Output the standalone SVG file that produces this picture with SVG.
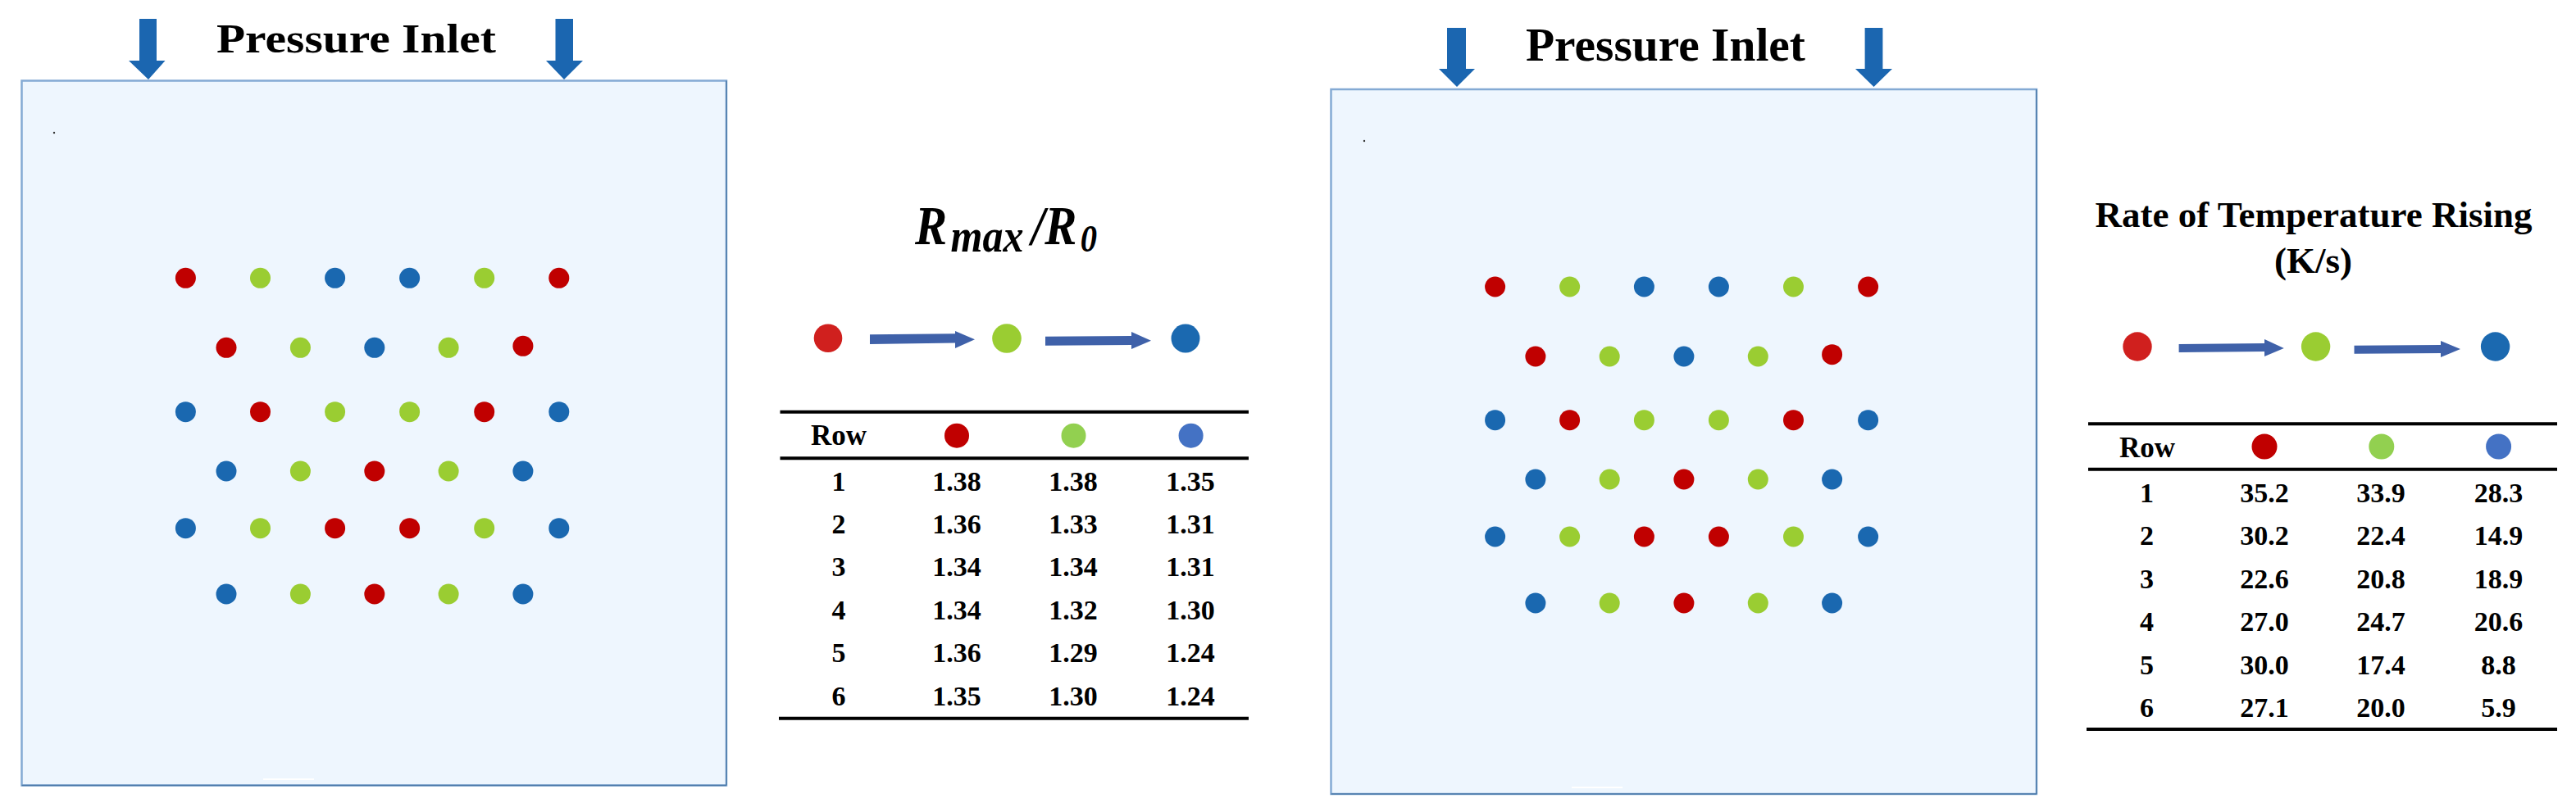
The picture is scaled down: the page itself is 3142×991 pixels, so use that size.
<svg xmlns="http://www.w3.org/2000/svg" width="3142" height="991" viewBox="0 0 3142 991">
<style>
.box{fill:#EEF6FE;stroke:#84AAD4;stroke-width:2.5}
.edge{stroke:#4A78A8;stroke-width:1.5;fill:none}
.inlet{fill:#1B66B0}
.ttl{font-family:"Liberation Serif","Times New Roman",serif;font-weight:bold;fill:#000}
.it{font-style:italic}
.tb{font-family:"Liberation Serif","Times New Roman",serif;font-weight:bold;font-size:34px;text-anchor:middle;fill:#000}
.hd{font-size:35px}
.rule{stroke:#000;stroke-width:4}
.r{fill:#C00000}.g{fill:#9ACD32}.b{fill:#1A68B0}
.lr{fill:#D0201E}.lg{fill:#9ACD32}.lb{fill:#1B69B0}
.hr{fill:#C00000}.hg{fill:#92D050}.hb{fill:#4472C4}
.conn{fill:#3F61A9}
</style>

<g id="left-domain">
  <rect class="box" x="26.5" y="98.5" width="859.5" height="860"/>
  <line class="edge" x1="886" y1="98.5" x2="886" y2="958.5"/>
  <line class="edge" x1="26.5" y1="958.5" x2="886" y2="958.5"/>
  <circle cx="66" cy="162" r="1.2" fill="#333"/>
  <line x1="321" y1="951" x2="383" y2="951" stroke="#FFFFFF" stroke-width="2"/>
</g>

<g id="left-inlet">
  <polygon class="inlet" points="170,23 191,23 191,74 201.5,74 181,97 157,74 170,74"/>
  <polygon class="inlet" points="677.5,23 699,23 699,74 711,74 688,97 666,74 677.5,74"/>
  <text class="ttl" x="264" y="64" font-size="50" textLength="341" lengthAdjust="spacingAndGlyphs">Pressure Inlet</text>
</g>

<g id="left-bubbles">
  <circle class="r" cx="226.4" cy="339.3" r="12.5"/>
  <circle class="g" cx="317.5" cy="339.3" r="12.5"/>
  <circle class="b" cx="408.6" cy="339.3" r="12.5"/>
  <circle class="b" cx="499.6" cy="339.3" r="12.5"/>
  <circle class="g" cx="590.7" cy="339.3" r="12.5"/>
  <circle class="r" cx="681.8" cy="339.3" r="12.5"/>

  <circle class="r" cx="276" cy="424.3" r="12.5"/>
  <circle class="g" cx="366.4" cy="424.3" r="12.5"/>
  <circle class="b" cx="456.8" cy="424.3" r="12.5"/>
  <circle class="g" cx="547.1" cy="424.3" r="12.5"/>
  <circle class="r" cx="637.9" cy="422.3" r="12.5"/>

  <circle class="b" cx="226.4" cy="502.7" r="12.5"/>
  <circle class="r" cx="317.5" cy="502.7" r="12.5"/>
  <circle class="g" cx="408.6" cy="502.7" r="12.5"/>
  <circle class="g" cx="499.6" cy="502.7" r="12.5"/>
  <circle class="r" cx="590.7" cy="502.7" r="12.5"/>
  <circle class="b" cx="681.8" cy="502.7" r="12.5"/>

  <circle class="b" cx="276" cy="575" r="12.5"/>
  <circle class="g" cx="366.4" cy="575" r="12.5"/>
  <circle class="r" cx="456.8" cy="575" r="12.5"/>
  <circle class="g" cx="547.1" cy="575" r="12.5"/>
  <circle class="b" cx="637.9" cy="575" r="12.5"/>

  <circle class="b" cx="226.4" cy="644.7" r="12.5"/>
  <circle class="g" cx="317.5" cy="644.7" r="12.5"/>
  <circle class="r" cx="408.6" cy="644.7" r="12.5"/>
  <circle class="r" cx="499.6" cy="644.7" r="12.5"/>
  <circle class="g" cx="590.7" cy="644.7" r="12.5"/>
  <circle class="b" cx="681.8" cy="644.7" r="12.5"/>

  <circle class="b" cx="276" cy="725" r="12.5"/>
  <circle class="g" cx="366.4" cy="725" r="12.5"/>
  <circle class="r" cx="456.8" cy="725" r="12.5"/>
  <circle class="g" cx="547.1" cy="725" r="12.5"/>
  <circle class="b" cx="637.9" cy="725" r="12.5"/>
</g>

<g id="left-legend">
  <text class="ttl it" x="1116" y="298" font-size="68" textLength="222" lengthAdjust="spacingAndGlyphs">R<tspan font-size="58" dx="5" dy="9">max</tspan><tspan dx="11" dy="-9">/R</tspan><tspan font-size="47" dx="5" dy="9">0</tspan></text>
  <circle class="lr" cx="1010" cy="412.7" r="17.3"/>
  <circle class="lg" cx="1228" cy="413" r="17.8"/>
  <circle class="lb" cx="1446" cy="413" r="17.5"/>
</g>

<g id="left-table">
  <line class="rule" x1="951.5" y1="502.7" x2="1523" y2="502.7"/>
  <line class="rule" x1="951.5" y1="559.3" x2="1523" y2="559.3"/>
  <line class="rule" x1="950" y1="876.7" x2="1523" y2="876.7"/>
  <text class="tb hd" x="1023" y="543">Row</text>
  <circle class="hr" cx="1167" cy="531.7" r="15"/>
  <circle class="hg" cx="1309.5" cy="531.7" r="15"/>
  <circle class="hb" cx="1452.6" cy="531.7" r="15"/>
  <text class="tb" x="1023" y="599.3">1</text><text class="tb" x="1167" y="599.3">1.38</text><text class="tb" x="1309" y="599.3">1.38</text><text class="tb" x="1452" y="599.3">1.35</text>
  <text class="tb" x="1023" y="650.7">2</text><text class="tb" x="1167" y="650.7">1.36</text><text class="tb" x="1309" y="650.7">1.33</text><text class="tb" x="1452" y="650.7">1.31</text>
  <text class="tb" x="1023" y="703">3</text><text class="tb" x="1167" y="703">1.34</text><text class="tb" x="1309" y="703">1.34</text><text class="tb" x="1452" y="703">1.31</text>
  <text class="tb" x="1023" y="756">4</text><text class="tb" x="1167" y="756">1.34</text><text class="tb" x="1309" y="756">1.32</text><text class="tb" x="1452" y="756">1.30</text>
  <text class="tb" x="1023" y="808">5</text><text class="tb" x="1167" y="808">1.36</text><text class="tb" x="1309" y="808">1.29</text><text class="tb" x="1452" y="808">1.24</text>
  <text class="tb" x="1023" y="861">6</text><text class="tb" x="1167" y="861">1.35</text><text class="tb" x="1309" y="861">1.30</text><text class="tb" x="1452" y="861">1.24</text>
</g>

<g id="right-domain">
  <rect class="box" x="1623.5" y="109" width="860.5" height="860"/>
  <line class="edge" x1="2484" y1="109" x2="2484" y2="969"/>
  <line class="edge" x1="1623.5" y1="969" x2="2484" y2="969"/>
  <circle cx="1664" cy="172" r="1.2" fill="#333"/>
  <line x1="1917" y1="961" x2="1979" y2="961" stroke="#FFFFFF" stroke-width="2"/>
</g>

<g id="right-inlet">
  <polygon class="inlet" points="1765,34 1788,34 1788,84 1799,84 1777,106 1755,84 1765,84"/>
  <polygon class="inlet" points="2274.6,34 2296.4,34 2296.4,84 2308,84 2285.5,106 2263,84 2274.6,84"/>
  <text class="ttl" x="1861" y="74" font-size="56" textLength="341" lengthAdjust="spacingAndGlyphs">Pressure Inlet</text>
</g>

<g id="right-bubbles">
  <circle class="r" cx="1823.6" cy="350" r="12.5"/>
  <circle class="g" cx="1914.6" cy="350" r="12.5"/>
  <circle class="b" cx="2005.4" cy="350" r="12.5"/>
  <circle class="b" cx="2096.4" cy="350" r="12.5"/>
  <circle class="g" cx="2187.5" cy="350" r="12.5"/>
  <circle class="r" cx="2278.6" cy="350" r="12.5"/>

  <circle class="r" cx="1872.9" cy="435" r="12.5"/>
  <circle class="g" cx="1963.2" cy="435" r="12.5"/>
  <circle class="b" cx="2053.9" cy="435" r="12.5"/>
  <circle class="g" cx="2144.3" cy="435" r="12.5"/>
  <circle class="r" cx="2234.6" cy="432.7" r="12.5"/>

  <circle class="b" cx="1823.6" cy="512.7" r="12.5"/>
  <circle class="r" cx="1914.6" cy="512.7" r="12.5"/>
  <circle class="g" cx="2005.4" cy="512.7" r="12.5"/>
  <circle class="g" cx="2096.4" cy="512.7" r="12.5"/>
  <circle class="r" cx="2187.5" cy="512.7" r="12.5"/>
  <circle class="b" cx="2278.6" cy="512.7" r="12.5"/>

  <circle class="b" cx="1872.9" cy="585" r="12.5"/>
  <circle class="g" cx="1963.2" cy="585" r="12.5"/>
  <circle class="r" cx="2053.9" cy="585" r="12.5"/>
  <circle class="g" cx="2144.3" cy="585" r="12.5"/>
  <circle class="b" cx="2234.6" cy="585" r="12.5"/>

  <circle class="b" cx="1823.6" cy="655" r="12.5"/>
  <circle class="g" cx="1914.6" cy="655" r="12.5"/>
  <circle class="r" cx="2005.4" cy="655" r="12.5"/>
  <circle class="r" cx="2096.4" cy="655" r="12.5"/>
  <circle class="g" cx="2187.5" cy="655" r="12.5"/>
  <circle class="b" cx="2278.6" cy="655" r="12.5"/>

  <circle class="b" cx="1872.9" cy="736" r="12.5"/>
  <circle class="g" cx="1963.2" cy="736" r="12.5"/>
  <circle class="r" cx="2053.9" cy="736" r="12.5"/>
  <circle class="g" cx="2144.3" cy="736" r="12.5"/>
  <circle class="b" cx="2234.6" cy="736" r="12.5"/>
</g>

<g id="right-legend">
  <text class="ttl" x="2822" y="277" font-size="45" text-anchor="middle">Rate of Temperature Rising</text>
  <text class="ttl" x="2821.5" y="333" font-size="45" text-anchor="middle">(K/s)</text>
  <circle class="lr" cx="2607" cy="423" r="17.7"/>
  <circle class="lg" cx="2824.6" cy="423" r="17.7"/>
  <circle class="lb" cx="3043.6" cy="423" r="17.7"/>
</g>

<g id="right-table">
  <line class="rule" x1="2547" y1="517.3" x2="3119" y2="517.3"/>
  <line class="rule" x1="2547" y1="572.7" x2="3119" y2="572.7"/>
  <line class="rule" x1="2545" y1="890" x2="3119" y2="890"/>
  <text class="tb hd" x="2619" y="558.3">Row</text>
  <circle class="hr" cx="2762" cy="545" r="15.5"/>
  <circle class="hg" cx="2904.8" cy="545" r="15.5"/>
  <circle class="hb" cx="3047.6" cy="545" r="15.5"/>
  <text class="tb" x="2618.4" y="613.3">1</text><text class="tb" x="2762" y="613.3">35.2</text><text class="tb" x="2904" y="613.3">33.9</text><text class="tb" x="3047.6" y="613.3">28.3</text>
  <text class="tb" x="2618.4" y="665">2</text><text class="tb" x="2762" y="665">30.2</text><text class="tb" x="2904" y="665">22.4</text><text class="tb" x="3047.6" y="665">14.9</text>
  <text class="tb" x="2618.4" y="718.3">3</text><text class="tb" x="2762" y="718.3">22.6</text><text class="tb" x="2904" y="718.3">20.8</text><text class="tb" x="3047.6" y="718.3">18.9</text>
  <text class="tb" x="2618.4" y="770">4</text><text class="tb" x="2762" y="770">27.0</text><text class="tb" x="2904" y="770">24.7</text><text class="tb" x="3047.6" y="770">20.6</text>
  <text class="tb" x="2618.4" y="822.7">5</text><text class="tb" x="2762" y="822.7">30.0</text><text class="tb" x="2904" y="822.7">17.4</text><text class="tb" x="3047.6" y="822.7">8.8</text>
  <text class="tb" x="2618.4" y="875">6</text><text class="tb" x="2762" y="875">27.1</text><text class="tb" x="2904" y="875">20.0</text><text class="tb" x="3047.6" y="875">5.9</text>
</g>

<g id="connectors">
  <polygon class="conn" points="1061,408.3 1165,407.3 1165,404 1189,414.3 1165,425 1165,418.5 1061,420"/>
  <polygon class="conn" points="1275,410.7 1380,410 1380,405 1404,415.7 1380,426 1380,421 1275,421.7"/>
  <polygon class="conn" points="2657.6,420 2762,419 2762,414 2785.8,425 2762,435 2762,429 2657.6,430"/>
  <polygon class="conn" points="2871.5,421.7 2977,421 2977,416 3001,426 2977,436 2977,431 2871.5,431.7"/>
</g>
</svg>
